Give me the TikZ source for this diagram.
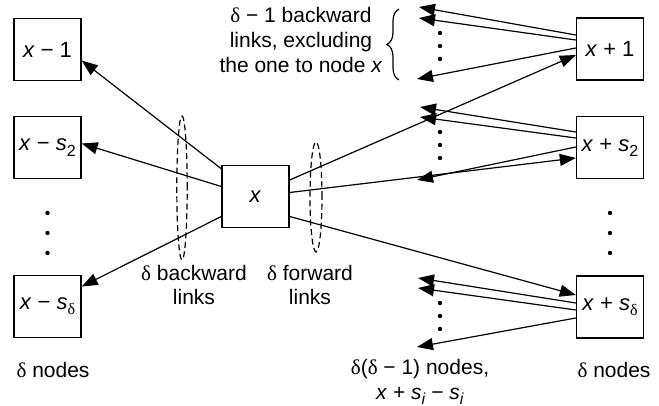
\documentclass[tikz,border=0pt]{standalone}
\usepackage{fontspec}
\setmainfont{Liberation Sans}
\newfontfamily\greekserif{Liberation Serif}
\usetikzlibrary{arrows.meta,calc,decorations.pathreplacing}
\newcommand{\dlt}{{\greekserif δ}}
\newcommand{\lowidx}[1]{\raisebox{-0.45ex}{\footnotesize #1}}
\tikzset{
  box/.style={rectangle, draw=black, line width=0.7pt, minimum width=33.5pt, minimum height=31pt, inner sep=0pt, font=\fontsize{11}{13}\selectfont},
  arrow/.style={-{Triangle[length=8pt,width=6pt]}, line width=0.6pt},
  caption/.style={align=center, inner sep=0pt, font=\fontsize{10.5}{12.3}\selectfont},
  linkgroup/.style={dash pattern=on 3pt off 1.8pt, line width=0.6pt}
}

\begin{document}
\begin{tikzpicture}[x=0.5pt,y=-0.5pt]
\useasboundingbox (0,0) rectangle (659,406);
% node x and its two columns of neighbours
\node[box] (x) at (255.5,196.5) {\textit{x}};
\node[box] (m1) at (47.5,49.5) {\textit{x} − 1};
\node[box] (m2) at (47.5,147.5) {\textit{x} − \textit{s}\lowidx{2}};
\node[box] (md) at (47.5,306.5) {\textit{x} − \textit{s}\lowidx{\dlt}};
\node[box] (p1) at (610,49) {\textit{x} + 1};
\node[box] (p2) at (610,147.5) {\textit{x} + \textit{s}\lowidx{2}};
\node[box] (pd) at (610,307) {\textit{x} + \textit{s}\lowidx{\dlt}};
% loose ends of the second-hop links
\coordinate (q11) at (419,7);\coordinate (q12) at (419,18);\coordinate (q13) at (417,79);
\coordinate (q21) at (420,107);\coordinate (q22) at (420,117);\coordinate (q23) at (417,180);
\coordinate (qd1) at (418,278);\coordinate (qd2) at (418,288);\coordinate (qd3) at (417,347);
% backward and forward links of x
\draw[arrow] ($(x.north west)+(0,4)$)--($(m1.east)+(0,11)$);\draw[arrow] ($(x.west)+(0,-10)$)--($(m2.east)+(0,-4)$);\draw[arrow] ($(x.west)+(0,20)$)--($(md.east)+(0,-20)$);
\draw[arrow] ($(x.east)+(0,-16.5)$)--($(p1.west)+(0,6)$);\draw[arrow] ($(x.east)+(0,-4)$)--($(p2.west)+(0,10.5)$);\draw[arrow] ($(x.east)+(0,20)$)--($(pd.west)+(0,-12)$);
% backward links of the forward neighbours
\draw[arrow] ($(p1.west)+(0,-14)$)--(q11);\draw[arrow] ($(p1.west)+(0,-9)$)--(q12);\draw[arrow] ($(p1.west)+(0,-1)$)--(q13);
\draw[arrow] ($(p2.west)+(0,-15.5)$)--(q21);\draw[arrow] ($(p2.west)+(0,-9.5)$)--(q22);\draw[arrow] ($(p2.west)+(0,-0.5)$)--(q23);
\draw[arrow] ($(pd.west)+(0,-4)$)--(qd1);\draw[arrow] ($(pd.west)+(0,3)$)--(qd2);\draw[arrow] ($(pd.west)+(0,11)$)--(qd3);
% link bundles
\draw[linkgroup] (182,188) ellipse [x radius=2.6pt, y radius=36pt];
\draw[linkgroup] (316,197) ellipse [x radius=3pt, y radius=27.5pt];
\draw[line width=0.6pt, decorate, decoration={brace, amplitude=6pt}] (399,80)--(399,9);
% elided nodes
\foreach \y in {213,233,253} {\fill (47.5,\y) circle (1.1pt); \fill (610,\y) circle (1.1pt);}
\foreach \y in {33,46,59,132,145,158,303,316,329} \fill (440,\y) circle (1.1pt);
% captions
\node[caption] (excl) at (301,40) {\dlt{} − 1 backward\\links, excluding\\the one to node \textit{x}};
\node[caption] (bwd) at (194,285) {\dlt{} backward\\links};
\node[caption] (fwd) at (310,285) {\dlt{} forward\\links};
\node[caption] (lcnt) at (53,370) {\dlt{} nodes};
\node[caption] (mcnt) at (420,382) {\dlt(\dlt{} − 1) nodes,\\\textit{x} + \textit{s}\lowidx{\textit{i}} − \textit{s}\lowidx{\textit{i}}};
\node[caption] (rcnt) at (614,370) {\dlt{} nodes};
\end{tikzpicture}
\end{document}
